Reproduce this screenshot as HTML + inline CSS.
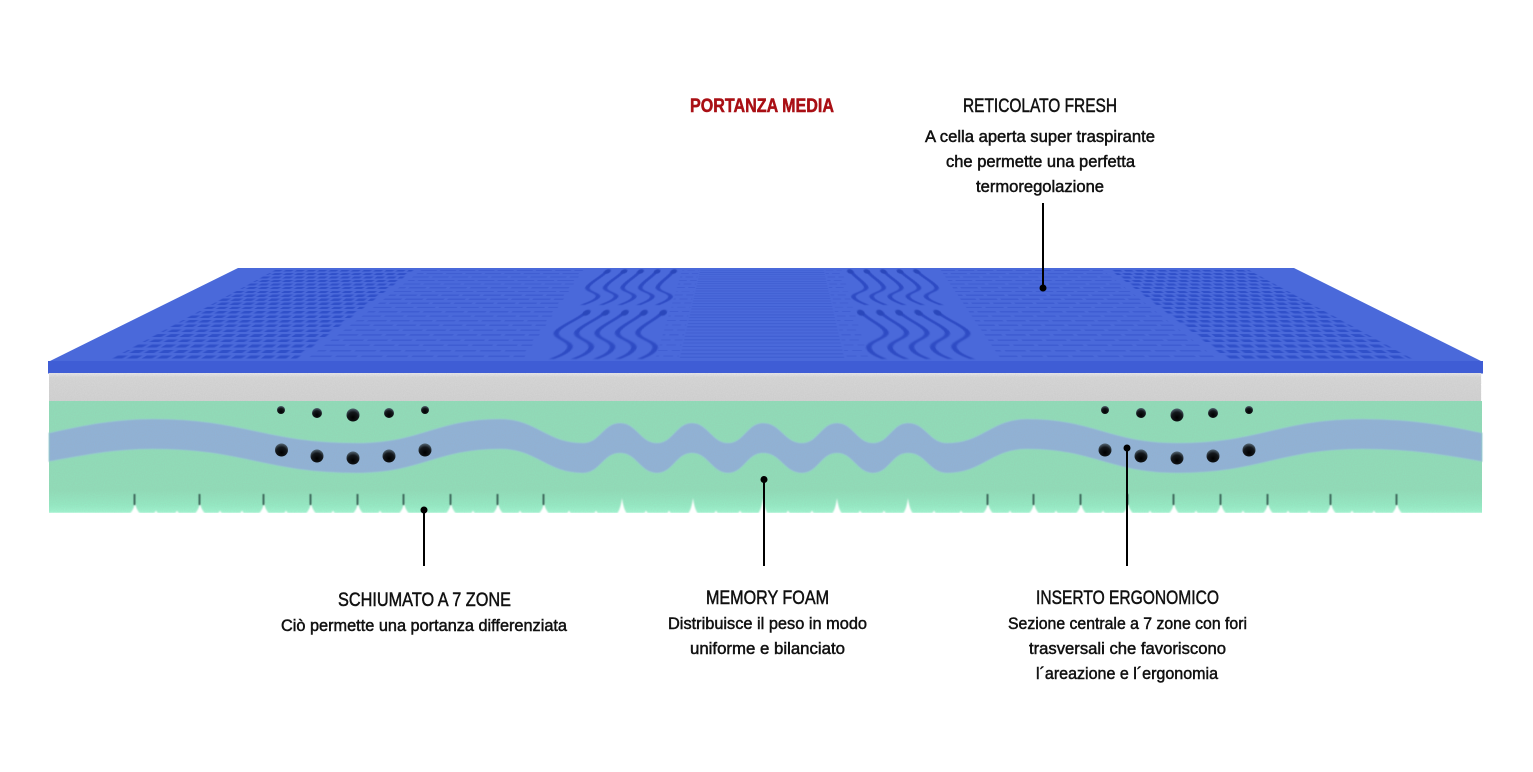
<!DOCTYPE html>
<html><head><meta charset="utf-8"><style>
html,body{margin:0;padding:0;background:#fff;width:1533px;height:772px;overflow:hidden}
svg{display:block}
.abs{position:absolute;left:0;top:0}
#plane{position:absolute;left:0;top:0;width:1000px;height:1000px;transform-origin:0 0;transform:matrix3d(1.056,0,0,0,-0.200862,-0.001422,0,-0.000263598,0,0,1,0,234,268,0,1)}
text{font-family:"Liberation Sans Narrow","Liberation Sans",sans-serif;fill:#111;stroke:#111;stroke-width:.5px}
.h{font-size:19px}.b{font-size:17px}
</style></head><body>
<svg class="abs" width="1533" height="772" viewBox="0 0 1533 772">
<polygon points="238,268 1294,268 1483,362 1483,373 48,373 48,362" fill="#4a69da"/>
</svg>
<div id="plane">
<svg width="1000" height="1000" viewBox="0 0 1000 1000">
<defs>
<filter id="wb" x="-10%" y="-10%" width="120%" height="120%"><feGaussianBlur stdDeviation="0.7 6"/></filter>
<pattern id="p1" patternUnits="userSpaceOnUse" x="0" y="28" width="10.5" height="92">
<rect x="0" y="0" width="7.500" height="25" fill="#3050c9"/>
<rect x="5.250" y="46" width="7.500" height="25" fill="#3050c9"/>
<rect x="-5.250" y="46" width="7.500" height="25" fill="#3050c9"/>
</pattern>
<pattern id="p2" patternUnits="userSpaceOnUse" x="0" y="28" width="18" height="92">
<rect x="0" y="0" width="15" height="14" fill="#2f4cc6"/>
<rect x="9" y="46" width="15" height="14" fill="#2f4cc6"/>
<rect x="-9" y="46" width="15" height="14" fill="#2f4cc6"/>
</pattern>
<pattern id="p3" patternUnits="userSpaceOnUse" x="0" y="28" width="10" height="92">
<rect x="0" y="0" width="7" height="10" fill="#3350c8"/>
<rect x="5" y="46" width="7" height="10" fill="#3350c8"/>
<rect x="-5" y="46" width="7" height="10" fill="#3350c8"/>
</pattern>
<pattern id="p4" patternUnits="userSpaceOnUse" x="0" y="28" width="20" height="30">
<rect x="0" y="0" width="20" height="11" fill="#3655cb"/>
</pattern>
<g id="w1">
<path fill="none" stroke="#2f4cc4" stroke-width="4" d="M417 43C415 130 408 190 408 256C408 310 422 330 422 377C422 420 416 445 413 468"/>
<ellipse cx="417.500" cy="50" rx="3" ry="32" fill="#2a46bb"/>
</g>
<g id="w2">
<path fill="none" stroke="#2f4cc4" stroke-width="4" d="M419.500 544C417 620 405.500 680 405.500 743C405.500 800 422.500 830 422.500 886C422.500 930 418 955 414 976"/>
<ellipse cx="420" cy="552" rx="3" ry="32" fill="#2a46bb"/>
</g>
<g id="wc">
<use href="#w1"/><use href="#w1" x="-15.500"/><use href="#w1" x="-31"/><use href="#w1" x="-46.500"/><use href="#w1" x="-62"/>
<use href="#w2"/><use href="#w2" x="-15.500"/><use href="#w2" x="-31"/><use href="#w2" x="-46.500"/><use href="#w2" x="-62"/>
</g>
</defs>
<rect x="42.500" y="28" width="130" height="945" fill="url(#p1)"/>
<rect x="827.500" y="28" width="130" height="945" fill="url(#p1)"/>
<rect x="180" y="28" width="152" height="945" fill="url(#p2)" opacity=".42"/>
<rect x="668" y="28" width="152" height="945" fill="url(#p2)" opacity=".42"/>
<rect x="425" y="28" width="16" height="945" fill="url(#p3)" opacity=".4"/>
<rect x="559" y="28" width="16" height="945" fill="url(#p3)" opacity=".4"/>
<rect x="442" y="28" width="116" height="945" fill="url(#p4)" opacity=".45"/>
<g filter="url(#wb)">
<use href="#wc"/>
<use href="#wc" transform="translate(1000,0) scale(-1,1)"/>
</g>
</svg>
</div>
<svg class="abs" width="1533" height="772" viewBox="0 0 1533 772">
<defs>
<filter id="noise" x="0" y="0" width="100%" height="100%"><feTurbulence type="fractalNoise" baseFrequency=".9" numOctaves="2" seed="4"/><feColorMatrix values="0 0 0 0 .35  0 0 0 0 .35  0 0 0 0 .35  0 0 0 .22 -.05"/></filter>
<filter id="s" x="-20%" y="-20%" width="140%" height="140%"><feGaussianBlur stdDeviation=".8"/></filter>
<filter id="s2" x="-5%" y="-5%" width="110%" height="110%"><feGaussianBlur stdDeviation=".4"/></filter>
<linearGradient id="g" x1="0" y1="0" x2="0" y2="1"><stop offset="0" stop-color="#90dcb8"/><stop offset=".8" stop-color="#90ddb8"/><stop offset=".93" stop-color="#94eac3"/><stop offset="1" stop-color="#a0f5d0"/></linearGradient>
<linearGradient id="gr" x1="0" y1="0" x2="0" y2="1"><stop offset="0" stop-color="#e6e6ea"/><stop offset=".15" stop-color="#d6d6d6"/><stop offset="1" stop-color="#d2d2d2"/></linearGradient>
<radialGradient id="h" cx=".5" cy=".7" r=".65"><stop offset="0" stop-color="#000"/><stop offset=".65" stop-color="#14181c"/><stop offset="1" stop-color="#4a5a66"/></radialGradient>
<path id="ns" d="M-7 515Q-1 513 1 503Q3 513 9 515Z" fill="#fff"/>
<path id="nm" d="M-7 515Q-2 513 0 498Q2 513 7 515Z" fill="#fff"/>
<path id="nb" d="M-4.500 515Q-1 513 0 510.500Q1 513 4.500 515Z" fill="#fff"/>
<rect id="nl" x="-.5" y="494" width="2" height="11" fill="#3f6a5d"/>
</defs>
<rect x="48" y="361" width="1435" height="12.500" fill="#3f5dd5"/>
<rect x="49" y="373" width="1432" height="28.500" fill="url(#gr)"/>
<rect x="49" y="401" width="1433" height="112" fill="url(#g)"/>
<path filter="url(#s2)" fill="#90b2d6" stroke="#96cfd0" stroke-width=".8" d="M49 433C85 425 115 419 153 419C244.800 419 265.200 443 357 443C421.350 443 435.650 419 500 419C537 419 546 443 583 443C600 443 603 423 620 423C637 423 640 443 657 443C673 443 676 423 692 423C708 423 712 443 728 443C744 443 747 423 763 423C781 423 784 443 802 443C818 443 821 423 837 423C853 423 857 443 873 443C889 443 892 423 908 423C926 423 929 443 947 443C983 443 991 419 1027 419C1094 419 1110 443 1177 443C1261 443 1279 419 1363 419C1410 419 1445 425 1482 433L1482 461.500C1445 455 1410 449 1363 449C1279 449 1261 473 1177 473C1110 473 1094 449 1027 449C991 449 983 473 947 473C929 473 926 453 908 453C892 453 889 473 873 473C857 473 853 453 837 453C821 453 818 473 802 473C784 473 781 453 763 453C747 453 744 473 728 473C712 473 708 453 692 453C676 453 673 473 657 473C640 473 637 453 620 453C603 453 600 473 583 473C546 473 537 449 500 449C435.650 449 421.350 473 357 473C265.200 473 244.800 449 153 449C115 449 85 455 49 461.500Z"/>
<rect x="49" y="373" width="1433" height="140" filter="url(#noise)"/>
<g fill="url(#h)">
<circle cx="281" cy="410" r="4"/><circle cx="317" cy="413" r="5"/><circle cx="353" cy="415" r="6.500"/><circle cx="389" cy="413" r="5"/><circle cx="425" cy="410" r="4"/>
<circle cx="281.500" cy="450" r="6.500"/><circle cx="317" cy="456" r="6.500"/><circle cx="353" cy="458" r="6.500"/><circle cx="389" cy="456" r="6.500"/><circle cx="425" cy="450" r="6.500"/>
<circle cx="1105" cy="410" r="4"/><circle cx="1141" cy="413" r="5"/><circle cx="1177" cy="415" r="6.500"/><circle cx="1213" cy="413" r="5"/><circle cx="1249" cy="410" r="4"/>
<circle cx="1105" cy="450" r="6.500"/><circle cx="1141" cy="456" r="6.500"/><circle cx="1177" cy="458" r="6.500"/><circle cx="1213" cy="456" r="6.500"/><circle cx="1249" cy="450" r="6.500"/>
</g>
<g filter="url(#s)">
<use href="#ns" x="134"/><use href="#ns" x="199"/><use href="#ns" x="263"/><use href="#ns" x="310"/><use href="#ns" x="357"/><use href="#ns" x="403"/><use href="#ns" x="450"/><use href="#ns" x="497"/><use href="#ns" x="543"/><use href="#ns" x="987"/><use href="#ns" x="1033"/><use href="#ns" x="1080"/><use href="#ns" x="1127"/><use href="#ns" x="1173"/><use href="#ns" x="1220"/><use href="#ns" x="1267"/><use href="#ns" x="1330"/><use href="#ns" x="1396"/>
<use href="#nm" x="622"/><use href="#nm" x="693"/><use href="#nm" x="763"/><use href="#nm" x="837"/><use href="#nm" x="908"/>
<use href="#nb" x="156"/><use href="#nb" x="177"/><use href="#nb" x="220"/><use href="#nb" x="242"/><use href="#nb" x="286"/><use href="#nb" x="333"/><use href="#nb" x="380"/><use href="#nb" x="426"/><use href="#nb" x="473"/><use href="#nb" x="520"/><use href="#nb" x="569"/><use href="#nb" x="596"/><use href="#nb" x="646"/><use href="#nb" x="669"/><use href="#nb" x="716"/><use href="#nb" x="740"/><use href="#nb" x="788"/><use href="#nb" x="812"/><use href="#nb" x="860"/><use href="#nb" x="884"/><use href="#nb" x="934"/><use href="#nb" x="961"/><use href="#nb" x="1010"/><use href="#nb" x="1056"/><use href="#nb" x="1103"/><use href="#nb" x="1150"/><use href="#nb" x="1196"/><use href="#nb" x="1243"/><use href="#nb" x="1288"/><use href="#nb" x="1309"/><use href="#nb" x="1352"/><use href="#nb" x="1374"/>
<rect x="30" y="513" width="1470" height="4" fill="#fff"/>
</g>
<g filter="url(#s2)">
<use href="#nl" x="134"/><use href="#nl" x="199"/><use href="#nl" x="263"/><use href="#nl" x="310"/><use href="#nl" x="357"/><use href="#nl" x="403"/><use href="#nl" x="450"/><use href="#nl" x="497"/><use href="#nl" x="543"/><use href="#nl" x="987"/><use href="#nl" x="1033"/><use href="#nl" x="1080"/><use href="#nl" x="1127"/><use href="#nl" x="1173"/><use href="#nl" x="1220"/><use href="#nl" x="1267"/><use href="#nl" x="1330"/><use href="#nl" x="1396"/>
</g>
<g fill="#000" stroke="#000" stroke-width="2">
<line x1="1043" y1="203" x2="1043" y2="288"/><circle cx="1043" cy="288" r="3" stroke-width="1"/>
<line x1="424" y1="510" x2="424" y2="566"/><circle cx="424" cy="510" r="3" stroke-width="1"/>
<line x1="764" y1="480" x2="764" y2="566"/><circle cx="764" cy="479.500" r="3" stroke-width="1"/>
<line x1="1127" y1="448" x2="1127" y2="566"/><circle cx="1127" cy="448" r="3" stroke-width="1"/>
</g>
<text x="690" y="112" class="h" textLength="144" lengthAdjust="spacingAndGlyphs" style="font-weight:bold;fill:#a90f14;stroke:#a90f14">PORTANZA MEDIA</text>
<text x="963" y="112" class="h" textLength="154" lengthAdjust="spacingAndGlyphs">RETICOLATO FRESH</text>
<text x="925" y="142" class="b" textLength="230" lengthAdjust="spacingAndGlyphs">A cella aperta super traspirante</text>
<text x="946" y="167" class="b" textLength="189" lengthAdjust="spacingAndGlyphs">che permette una perfetta</text>
<text x="976" y="192" class="b" textLength="128" lengthAdjust="spacingAndGlyphs">termoregolazione</text>
<text x="338" y="606" class="h" textLength="173" lengthAdjust="spacingAndGlyphs">SCHIUMATO A 7 ZONE</text>
<text x="281" y="631" class="b" textLength="286" lengthAdjust="spacingAndGlyphs">Ciò permette una portanza differenziata</text>
<text x="706" y="604" class="h" textLength="123" lengthAdjust="spacingAndGlyphs">MEMORY FOAM</text>
<text x="668" y="629" class="b" textLength="199" lengthAdjust="spacingAndGlyphs">Distribuisce il peso in modo</text>
<text x="690" y="654" class="b" textLength="155" lengthAdjust="spacingAndGlyphs">uniforme e bilanciato</text>
<text x="1036" y="604" class="h" textLength="183" lengthAdjust="spacingAndGlyphs">INSERTO ERGONOMICO</text>
<text x="1008" y="629" class="b" textLength="239" lengthAdjust="spacingAndGlyphs">Sezione centrale a 7 zone con fori</text>
<text x="1029" y="654" class="b" textLength="197" lengthAdjust="spacingAndGlyphs">trasversali che favoriscono</text>
<text x="1036" y="679" class="b" textLength="182" lengthAdjust="spacingAndGlyphs">l´areazione e l´ergonomia</text>
</svg>
</body></html>
